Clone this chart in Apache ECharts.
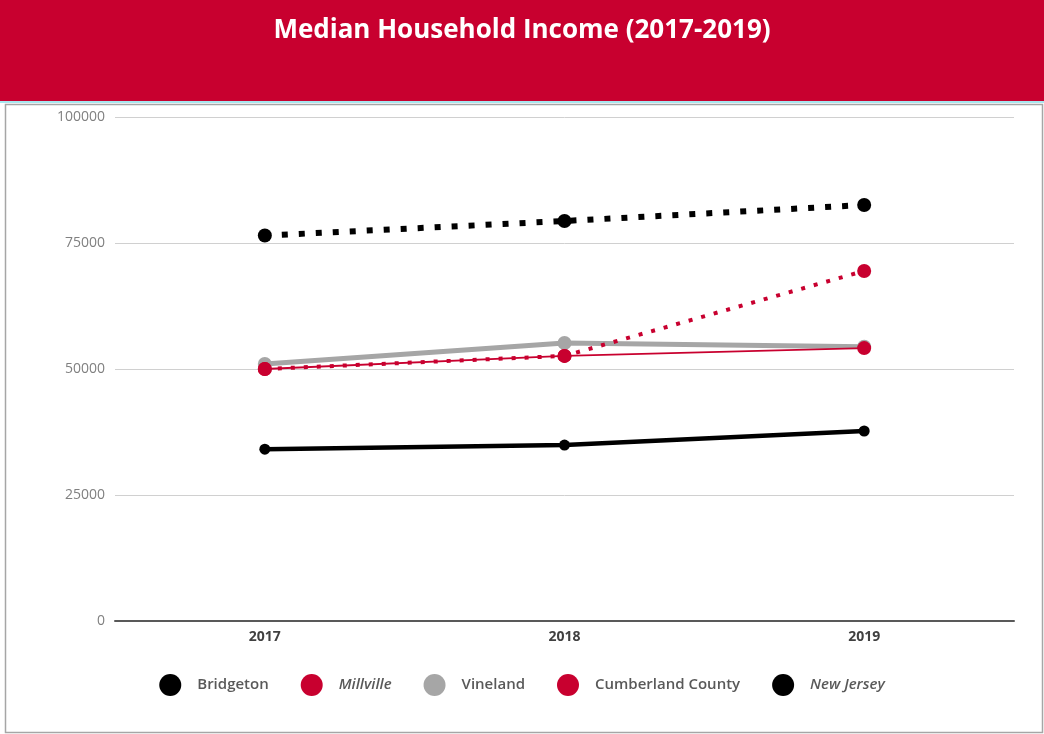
<!DOCTYPE html>
<html>
<head>
<meta charset="utf-8">
<script src="https://cdn.jsdelivr.net/npm/echarts@6/dist/echarts.min.js"></script>
<style>
html,body{margin:0;padding:0;background:#fff;}
#chart{width:1044px;height:734px;}
</style>
</head>
<body>
<div id="chart"></div>
<script>
const titleText = 'Median Household Income (2017-2019)';
const years = ['2017', '2018', '2019'];
const yTicks = [0, 25000, 50000, 75000, 100000];
const bridgeton = [34100, 34900, 37700];
const millville = [50000, 52600, 69450];
const vineland = [51000, 55150, 54400];
const cumberland = [50000, 52600, 54150];
const newJersey = [76475, 79363, 82545];
const italicNames = ['Millville', 'New Jersey'];

const RED = '#C8002F';
const font = '"Open Sans", "Liberation Sans", sans-serif';

const chart = echarts.init(document.getElementById('chart'), null, {renderer: 'canvas'});

function series(name, data, color, width, lineType, symbolSize, z) {
  return {
    name, type: 'line', data,
    symbol: 'circle', symbolSize,
    showSymbol: true,
    z,
    itemStyle: {color},
    lineStyle: {color, width, type: lineType, cap: 'butt'},
    emphasis: {disabled: true},
    animation: false
  };
}

const legendText = {color: '#595959', fontSize: 15, fontWeight: 600, fontFamily: font, padding: [0, 0, 0, 11]};

chart.setOption({
  backgroundColor: '#fff',
  animation: false,
  textStyle: {fontFamily: font},
  graphic: [
    {type: 'rect', left: 0, top: 0, shape: {width: 1044, height: 101}, style: {fill: RED}, z: 0},
    {type: 'rect', left: 0, top: 101, shape: {width: 1044, height: 2}, style: {fill: '#a8e6ef'}, z: 0},
    {type: 'rect', left: 3, top: 102, shape: {width: 1037, height: 628}, style: {fill: 'none', stroke: '#a6a6a6', lineWidth: 1.5}, z: 0}
  ],
  title: {
    text: titleText,
    left: 'center', top: 13,
    textStyle: {color: '#fff', fontSize: 26, fontWeight: 'bold', fontFamily: font}
  },
  legend: {
    top: 669, left: 'center',
    icon: 'circle', itemWidth: 22, itemHeight: 22, itemGap: 32,
    data: ['Bridgeton', 'Millville', 'Vineland', 'Cumberland County', 'New Jersey'],
    formatter: name => italicNames.includes(name) ? `{i|${name}}` : `{n|${name}}`,
    textStyle: {
      color: '#595959', fontSize: 15, fontFamily: font,
      rich: {
        i: Object.assign({fontStyle: 'italic'}, legendText),
        n: Object.assign({}, legendText)
      }
    }
  },
  grid: {left: 115, right: 30, top: 117, bottom: 113, containLabel: false},
  xAxis: {
    type: 'category', data: years, boundaryGap: true,
    axisLine: {show: true, lineStyle: {color: '#595959', width: 2}},
    axisTick: {show: false},
    axisLabel: {color: '#404040', fontSize: 14, margin: 9, fontFamily: font, fontWeight: 'bold'}
  },
  yAxis: {
    type: 'value', min: 0, max: 100000, interval: 25000,
    axisLine: {show: false}, axisTick: {show: false},
    axisLabel: {color: '#808080', fontSize: 14, margin: 10, fontFamily: font,
      formatter: v => yTicks.includes(v) ? String(v) : ''},
    splitLine: {lineStyle: {color: '#d0d0d0', width: 1}}
  },
  series: [
    series('Bridgeton', bridgeton, '#000', 4.5, 'solid', 11, 3),
    series('Millville', millville, RED, 4, [4, 9], 14, 5),
    series('Vineland', vineland, '#a6a6a6', 5, 'solid', 14, 2),
    series('Cumberland County', cumberland, RED, 1.8, 'solid', 14, 4),
    series('New Jersey', newJersey, '#000', 6, [6, 11], 14, 6)
  ]
});
</script>
</body>
</html>
